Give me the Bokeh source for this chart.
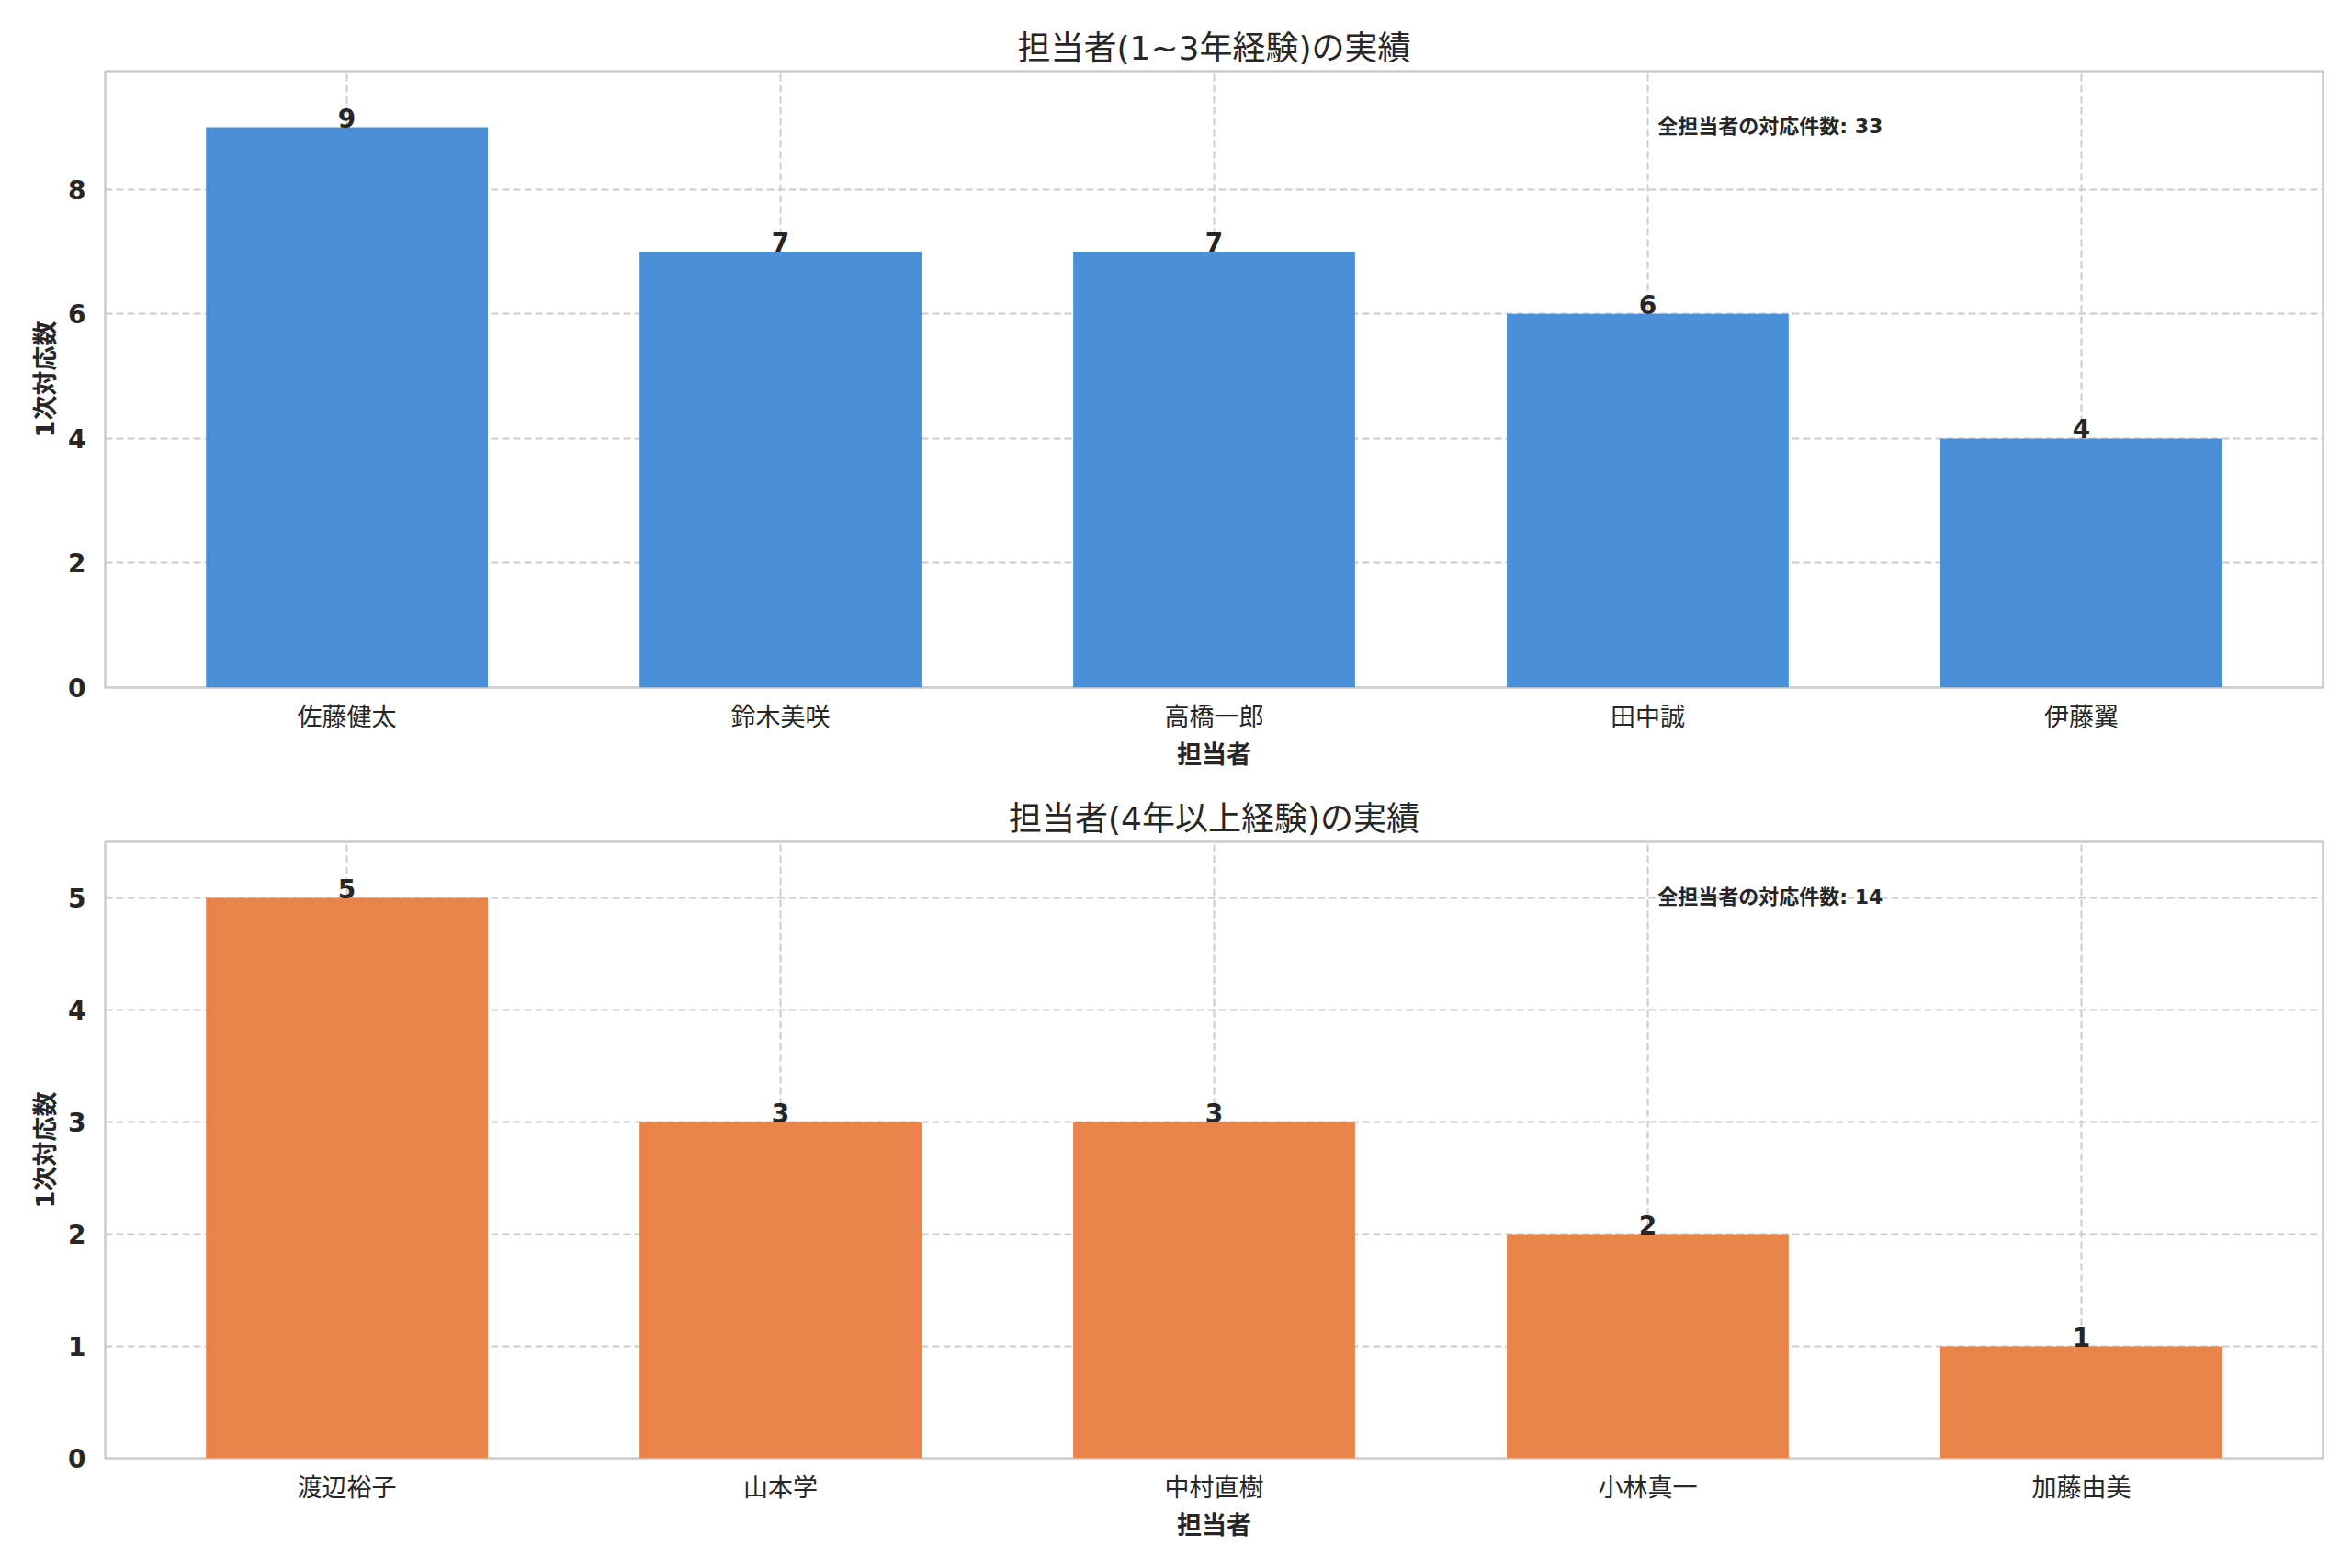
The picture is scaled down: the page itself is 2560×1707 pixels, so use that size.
from bokeh.plotting import figure
from bokeh.layouts import column
from bokeh.models import ColumnDataSource, FixedTicker, Label, Range1d, LabelSet
from bokeh.embed import file_html
from bokeh.resources import INLINE
from bokeh.core.properties import value

# ---- data ----
title_top = "担当者(1~3年経験)の実績"
title_bottom = "担当者(4年以上経験)の実績"
x_label = "担当者"
y_label = "1次対応数"
total_label = "全担当者の対応件数"

cats_top = ["佐藤健太", "鈴木美咲", "高橋一郎", "田中誠", "伊藤翼"]
vals_top = [9, 7, 7, 6, 4]
yticks_top = [0, 2, 4, 6, 8]

cats_bottom = ["渡辺裕子", "山本学", "中村直樹", "小林真一", "加藤由美"]
vals_bottom = [5, 3, 3, 2, 1]
yticks_bottom = [0, 1, 2, 3, 4, 5]

color_top = "#4a90d9"
color_bottom = "#e8844a"

FONT = "DejaVu Sans, Noto Sans CJK JP"
TXT = "#262626"
GRID = "#cccccc"


def make(cats, vals, color, title, yticks):
    n = len(cats)
    w = 0.65
    xs = list(range(n))
    span = (n - 1) + w
    x0 = -w / 2 - 0.05 * span
    x1 = (n - 1) + w / 2 + 0.05 * span
    ymax = max(vals) * 1.1
    p = figure(frame_width=2414, frame_height=671,
               min_border_left=114, min_border_right=24,
               min_border_top=77, min_border_bottom=91,
               x_range=Range1d(x0, x1), y_range=Range1d(0, ymax),
               output_backend="svg", toolbar_location=None,
               background_fill_color="white", border_fill_color="white")
    p.title.text = title
    p.title.align = "center"
    p.title.text_font = FONT
    p.title.text_font_size = "36px"
    p.title.text_font_style = "normal"
    p.title.text_color = TXT
    p.title.standoff = 10

    src = ColumnDataSource(dict(x=xs, top=vals, label=[str(v) for v in vals]))
    p.vbar(x="x", top="top", width=w, bottom=0, source=src,
           fill_color=color, line_color=None)
    p.add_layout(LabelSet(x="x", y="top", text="label", source=src,
                          text_align="center", text_baseline="bottom",
                          text_font=value(FONT), text_font_size=value("28px"),
                          text_font_style=value("bold"), text_color=value(TXT)))

    p.add_layout(Label(x=x0 + 0.70 * (x1 - x0), y=0.91 * ymax,
                       text=f"{total_label}: {sum(vals)}",
                       text_align="left", text_baseline="middle",
                       text_font=FONT, text_font_size="22px",
                       text_font_style="bold", text_color=TXT))

    p.xaxis.ticker = FixedTicker(ticks=xs)
    p.xaxis.major_label_overrides = {i: c for i, c in zip(xs, cats)}
    p.yaxis.ticker = FixedTicker(ticks=yticks)

    for ax in (p.xaxis[0], p.yaxis[0]):
        ax.axis_line_color = None
        ax.major_tick_line_color = None
        ax.minor_tick_line_color = None
        ax.major_tick_in = 0
        ax.major_tick_out = 0
        ax.major_label_text_font = FONT
        ax.major_label_text_color = TXT
        ax.axis_label_text_font = FONT
        ax.axis_label_text_color = TXT
        ax.axis_label_text_font_style = "bold"
        ax.axis_label_text_font_size = "27px"
    p.xaxis.axis_label = x_label
    p.yaxis.axis_label = y_label
    p.xaxis.major_label_text_font_size = "27px"
    p.xaxis.major_label_text_font_style = "normal"
    p.yaxis.major_label_text_font_size = "28px"
    p.yaxis.major_label_text_font_style = "bold"
    p.xaxis.major_label_standoff = 16
    p.yaxis.major_label_standoff = 21
    p.xaxis.axis_label_standoff = 7
    p.yaxis.axis_label_standoff = 6

    for g in (p.xgrid[0], p.ygrid[0]):
        g.grid_line_color = GRID
        g.grid_line_dash = "8 4"
        g.grid_line_width = 2
    p.outline_line_color = GRID
    p.outline_line_width = 2.5
    return p


p1 = make(cats_top, vals_top, color_top, title_top, yticks_top)
p2 = make(cats_bottom, vals_bottom, color_bottom, title_bottom, yticks_bottom)
layout = column(p1, p2, spacing=0)

open("out.html", "w").write(file_html(layout, INLINE))
